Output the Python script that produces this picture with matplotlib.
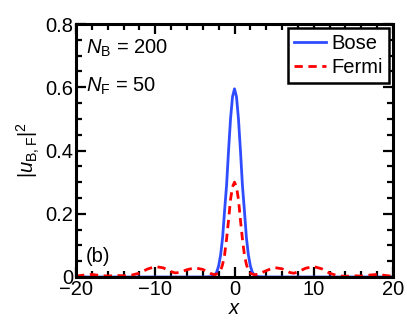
#!/usr/bin/env python3
# -*- coding: utf-8 -*-

import matplotlib
matplotlib.use("Agg")
import matplotlib.pyplot as plt
from matplotlib.ticker import MultipleLocator, FixedLocator

# Bose density |u_B|^2
bose_x = [-20, -6, -4, -3, -2.5, -2.25, -2.0, -1.75, -1.5, -1.25, -1.0, -0.75, -0.5, -0.25,
          0, 0.25, 0.5, 0.75, 1.0, 1.25, 1.5, 1.75, 2.0, 2.25, 2.5, 3, 4, 6, 20]
bose_y = [0, 0, 0, 0.001, 0.006, 0.015, 0.035, 0.07, 0.125, 0.21, 0.29, 0.40, 0.50, 0.57,
          0.595, 0.57, 0.50, 0.40, 0.29, 0.21, 0.125, 0.07, 0.035, 0.015, 0.006, 0.001, 0, 0, 0]

# Fermi density |u_F|^2
fermi_x = [-20, -19, -18, -17, -16, -15, -14, -13, -12, -11, -10, -9, -8, -7.5, -7, -6, -5, -4,
           -3, -2.5, -2.0, -1.75, -1.5, -1.25, -1.0, -0.75, -0.5, -0.25, 0,
           0.25, 0.5, 0.75, 1.0, 1.25, 1.5, 1.75, 2.0, 2.5, 3, 4, 5, 6, 7, 7.5, 8, 9, 10,
           11, 12, 13, 14, 15, 16, 17, 18, 19, 20]
fermi_y = [0.003, 0.006, 0.008, 0.005, 0.003, 0.005, 0.004, 0.006, 0.012, 0.025, 0.033, 0.029,
           0.017, 0.013, 0.014, 0.023, 0.029, 0.024, 0.011, 0.007, 0.012, 0.02, 0.04, 0.07,
           0.12, 0.18, 0.245, 0.285, 0.30,
           0.285, 0.245, 0.18, 0.12, 0.07, 0.04, 0.02, 0.012, 0.007, 0.009, 0.02, 0.03,
           0.026, 0.014, 0.012, 0.016, 0.028, 0.033, 0.026, 0.012, 0.004, 0.002, 0.004,
           0.003, 0.006, 0.008, 0.005, 0.002]

x_ticks = [-20, -10, 0, 10, 20]
y_ticks = [0, 0.2, 0.4, 0.6, 0.8]
y_tick_labels = ["0", "0.2", "0.4", "0.6", "0.8"]

plt.rcParams['font.family'] = ['Liberation Sans', 'DejaVu Sans']
plt.rcParams['mathtext.fontset'] = 'custom'
plt.rcParams['mathtext.rm'] = 'Liberation Sans'
plt.rcParams['mathtext.it'] = 'Liberation Sans:italic'

FS = 14.5

fig = plt.figure(figsize=(4.07, 3.27), dpi=100)
ax = fig.add_axes([76 / 407, 50 / 327, 317 / 407, 253 / 327])

ax.plot(bose_x, bose_y, color='#2f4dff', lw=2.0, label='Bose')
ax.plot(fermi_x, fermi_y, color='#ff0000', lw=2.0, ls=(0, (3.0, 2.0)), label='Fermi')

ax.set_xlim(-20, 20)
ax.set_ylim(0, 0.8)
ax.xaxis.set_major_locator(FixedLocator(x_ticks))
ax.xaxis.set_minor_locator(MultipleLocator(2))
ax.yaxis.set_major_locator(FixedLocator(y_ticks))
ax.yaxis.set_minor_locator(MultipleLocator(0.05))
ax.set_yticklabels(y_tick_labels)
ax.tick_params(which='both', direction='in', top=True, right=True, width=1.6, labelsize=FS, pad=2)
ax.tick_params(which='major', length=7)
ax.tick_params(which='minor', length=4)
for s in ax.spines.values():
    s.set_linewidth(2.2)

ax.set_xlabel('$x$', fontsize=FS, labelpad=0)
ax.set_ylabel(r'$|u_{\mathrm{B,F}}|^2$', fontsize=FS, labelpad=2)

ax.text(0.03, 0.905, r'$N_{\mathrm{B}}$ = 200', transform=ax.transAxes, fontsize=FS, va='center')
ax.text(0.03, 0.755, r'$N_{\mathrm{F}}$ = 50', transform=ax.transAxes, fontsize=FS, va='center')
ax.text(0.03, 0.08, '(b)', transform=ax.transAxes, fontsize=FS, va='center')

leg = ax.legend(loc='upper right', fontsize=FS, frameon=True, fancybox=False, framealpha=1,
                handlelength=1.6, handletextpad=0.25, borderpad=0.3, labelspacing=0.25,
                borderaxespad=0.2)
leg.get_frame().set_edgecolor('black')
leg.get_frame().set_linewidth(1.8)

plt.savefig('out.png', dpi=100)
